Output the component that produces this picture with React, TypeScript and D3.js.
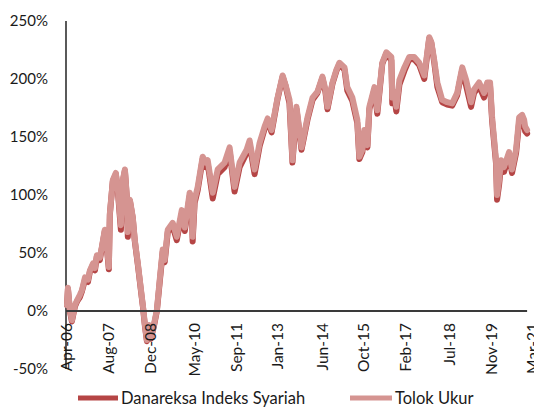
import React from 'react';
import * as d3 from 'd3';

const dates = [
  '2006-04-01', '2006-04-12', '2006-05-05', '2006-05-28', '2006-07-03', '2006-07-26', '2006-08-30', '2006-09-23',
  '2006-10-28', '2006-12-02', '2006-12-25', '2007-01-30', '2007-02-22', '2007-03-16', '2007-04-20', '2007-05-13',
  '2007-06-17', '2007-07-10', '2007-08-03', '2007-08-15', '2007-09-19', '2007-10-24', '2007-11-17', '2007-12-22',
  '2008-01-14', '2008-02-07', '2008-03-01', '2008-03-12', '2008-04-05', '2008-05-09', '2008-06-02', '2008-07-07',
  '2008-08-23', '2008-09-04', '2008-09-28', '2008-10-21', '2008-11-14', '2008-12-07', '2009-01-11', '2009-02-15',
  '2009-03-20', '2009-04-24', '2009-05-17', '2009-06-22', '2009-08-19', '2009-10-05', '2009-12-03', '2010-01-07',
  '2010-03-05', '2010-03-28', '2010-04-09', '2010-05-02', '2010-06-07', '2010-08-04', '2010-09-09', '2010-10-02',
  '2010-11-30', '2011-01-27', '2011-04-18', '2011-06-15', '2011-08-12', '2011-10-10', '2011-12-31', '2012-02-04',
  '2012-04-02', '2012-05-31', '2012-07-28', '2012-09-02', '2012-10-18', '2012-12-27', '2013-02-24', '2013-03-30',
  '2013-05-15', '2013-06-19', '2013-08-05', '2013-10-03', '2013-12-12', '2014-02-09', '2014-04-07', '2014-06-04',
  '2014-07-09', '2014-08-02', '2014-09-30', '2014-11-15', '2014-12-20', '2015-02-17', '2015-03-22', '2015-05-20',
  '2015-07-17', '2015-08-10', '2015-09-14', '2015-10-07', '2015-11-12', '2015-12-05', '2016-02-02', '2016-03-07',
  '2016-05-04', '2016-06-20', '2016-08-18', '2016-08-29', '2016-09-22', '2016-10-15', '2016-11-20', '2017-01-17',
  '2017-03-15', '2017-05-12', '2017-07-10', '2017-09-07', '2017-11-04', '2017-11-28', '2018-01-02', '2018-02-07',
  '2018-04-04', '2018-06-02', '2018-07-30', '2018-09-27', '2018-10-20', '2018-11-25', '2019-01-10', '2019-03-08',
  '2019-04-12', '2019-06-10', '2019-08-07', '2019-09-12', '2019-10-16', '2019-11-09', '2019-12-25', '2020-01-06',
  '2020-01-30', '2020-02-22', '2020-03-27', '2020-05-25', '2020-06-29', '2020-08-15', '2020-09-20', '2020-10-25',
  '2020-11-17', '2020-11-29', '2020-12-22',
];

// Danareksa Indeks Syariah (%)
const fund = [
  5, 19, 0, -9, 4, 8, 12, 17,
  27, 25, 34, 40, 35, 47, 44, 54,
  69, 55, 36, 83, 112, 118, 103, 70,
  112, 121, 97, 64, 95, 80, 60, 40,
  11, 4, -13, -26, -13, -24, -13, 0,
  25, 51, 42, 68, 73, 61, 84, 69,
  99, 95, 60, 93, 104, 131, 124, 127,
  97, 118, 124, 138, 103, 124, 136, 144,
  118, 142, 157, 164, 154, 183, 202, 194,
  179, 128, 174, 139, 165, 182, 188, 201,
  189, 174, 196, 207, 213, 208, 190, 181,
  162, 131, 137, 154, 141, 174, 191, 170,
  213, 222, 216, 179, 185, 172, 195, 207,
  217, 217, 212, 200, 235, 231, 214, 193,
  180, 178, 177, 186, 195, 208, 194, 176,
  188, 194, 184, 194, 194, 164, 127, 96,
  109, 126, 120, 134, 119, 136, 163, 165,
  160, 155, 153,
];

// Tolok Ukur (%)
const benchmark = [
  5, 20, 1, -8, 5, 9, 14, 18,
  29, 27, 35, 41, 37, 48, 46, 55,
  70, 57, 38, 84, 113, 119, 104, 74,
  113, 122, 98, 68, 96, 81, 61, 41,
  12, 5, -12, -25, -12, -23, -12, 1,
  27, 53, 44, 70, 76, 64, 87, 72,
  102, 98, 64, 96, 107, 133, 128, 130,
  102, 122, 128, 141, 107, 128, 139, 147,
  122, 145, 159, 166, 156, 184, 203, 195,
  182, 130, 176, 141, 167, 184, 189, 202,
  191, 176, 197, 208, 214, 210, 193, 184,
  165, 133, 139, 156, 143, 176, 193, 173,
  214, 223, 219, 184, 189, 176, 199, 210,
  219, 219, 214, 203, 236, 232, 216, 197,
  182, 180, 179, 188, 197, 210, 199, 180,
  191, 197, 188, 197, 197, 167, 130, 100,
  113, 130, 124, 137, 122, 139, 167, 169,
  165, 159, 156,
];

const yTicks = [-50, 0, 50, 100, 150, 200, 250];
const xTicks = ['2006-04-01', '2007-08-01', '2008-12-01', '2010-05-01', '2011-09-01', '2013-01-01',
  '2014-06-01', '2015-10-01', '2017-02-01', '2018-07-01', '2019-11-01', '2021-03-01'];

const seriesNames = ['Danareksa Indeks Syariah', 'Tolok Ukur'];
const colors = ['#b54545', '#d59491'];

const App = () => {
  const width = 534;
  const height = 407;
  const parse = d3.timeParse('%Y-%m-%d');
  const fmt = d3.timeFormat('%b-%y');
  const font = 'Lato, "Open Sans", sans-serif';

  const x = d3.scaleTime()
    .domain([parse('2006-04-01'), parse('2021-03-01')])
    .range([67, 533]);
  const y = d3.scaleLinear().domain([-50, 250]).range([369, 21]);

  const line = d3.line<number>()
    .x((_, i) => x(parse(dates[i])))
    .y(d => y(d));

  const lastX = x(parse(dates[dates.length - 1]));

  return (
    <svg width={width} height={height} style={{ position: 'absolute', left: 0, top: 0, background: '#fff' }}
      fontFamily={font}>
      {/* y axis */}
      <line x1={66} x2={66} y1={y(250)} y2={y(-50)} stroke="#000" strokeWidth={1.3} />
      {yTicks.map(t => (
        <text key={t} x={48} y={y(t)} dy="0.35em" textAnchor="end" fontSize={15} fill="#1a1a1a">{t}%</text>
      ))}

      {/* series */}
      {[fund, benchmark].map((s, i) => (
        <path key={i} d={line(s) || ''} fill="none" stroke={colors[i]} strokeWidth={6}
          strokeLinejoin="round" strokeLinecap="round" />
      ))}

      {/* zero line */}
      <line x1={66} x2={lastX} y1={y(0)} y2={y(0)} stroke="#3a3a3a" strokeWidth={2} />

      {/* x tick labels */}
      {xTicks.map(t => {
        const xp = x(parse(t));
        return (
          <text key={t} transform={`translate(${xp},${y(0) + 12}) rotate(-90)`} dy="0.35em"
            textAnchor="end" fontSize={15.5} fill="#1a1a1a">{fmt(parse(t))}</text>
        );
      })}

      {/* legend */}
      <line x1={78} x2={118} y1={398} y2={398} stroke={colors[0]} strokeWidth={5} />
      <text x={121} y={398} dy="0.35em" fontSize={16.5} fill="#1a1a1a">{seriesNames[0]}</text>
      <line x1={350} x2={392} y1={398} y2={398} stroke={colors[1]} strokeWidth={5} />
      <text x={395} y={398} dy="0.35em" fontSize={16.5} fill="#1a1a1a">{seriesNames[1]}</text>
    </svg>
  );
};

export default App;
